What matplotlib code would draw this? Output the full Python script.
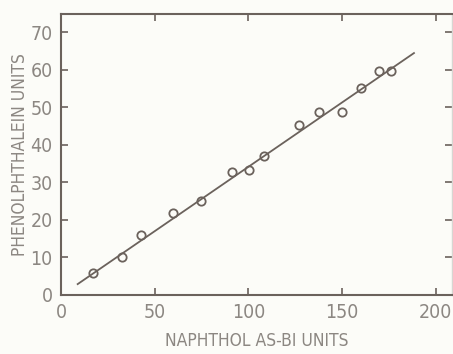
import numpy as np
import matplotlib.pyplot as plt

# Phenolphthalein vs naphthol AS-BI units, with fitted line.

naphthol = [17.2, 32.5, 42.9, 59.9, 74.5, 91.1, 100.3, 108.2, 127.2, 137.8, 150.1, 160.1, 169.5, 175.9]
phenol = [5.8, 10.0, 16.0, 21.9, 24.9, 32.7, 33.3, 37.1, 45.3, 48.6, 48.8, 55.1, 59.7, 59.5]
fit_x = [8.9, 188.4]
fit_y = [2.9, 64.4]
xticks = [0, 50, 100, 150, 200]
yticks = [0, 10, 20, 30, 40, 50, 60, 70]

ink = "#6b625c"
txt = "#8c8782"
plt.rcParams['font.family'] = ['DejaVu Sans']
plt.rcParams['font.stretch'] = 'condensed'

fig = plt.figure(figsize=(4.53, 3.54), dpi=100, facecolor="#fcfcf8")
ax = fig.add_axes([61/453, 59/354, 391/453, 281/354])
ax.set_facecolor("#fcfcf8")

ax.plot(fit_x, fit_y, color=ink, linewidth=1.3)
ax.plot(naphthol, phenol, "o", markersize=6, markerfacecolor="none",
        markeredgecolor=ink, markeredgewidth=1.3)

ax.set_xlim(0, 208.7)
ax.set_ylim(0, 74.8)
ax.set_xticks(xticks)
ax.set_yticks(yticks)
ax.tick_params(direction="in", length=5, width=1.2, color=ink, labelcolor=txt,
               labelsize=14, top=True, right=True, pad=6)
for s in ["left", "bottom", "top"]:
    ax.spines[s].set_color(ink)
    ax.spines[s].set_linewidth(1.5)
ax.spines["right"].set_color("#d8d6d2")
ax.spines["right"].set_linewidth(1.0)

ax.set_xlabel("NAPHTHOL AS-BI UNITS", color=txt, fontsize=12.5, labelpad=7)
ax.set_ylabel("PHENOLPHTHALEIN UNITS", color=txt, fontsize=12.5, labelpad=1)

plt.savefig("out.png", dpi=100, facecolor=fig.get_facecolor())
